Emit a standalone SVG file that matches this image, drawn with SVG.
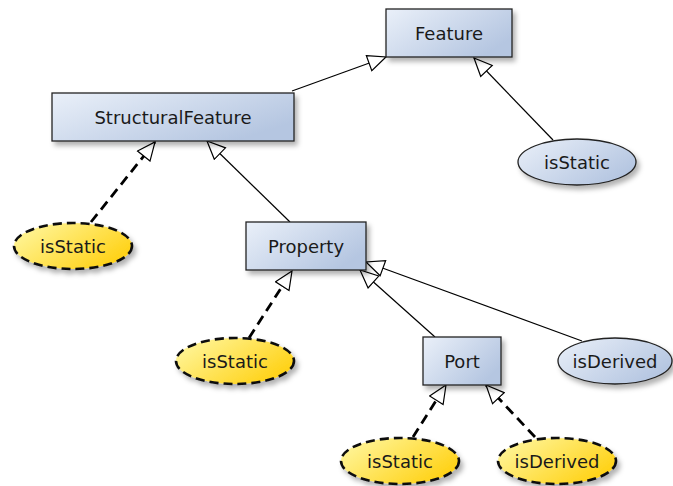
<svg xmlns="http://www.w3.org/2000/svg" width="673" height="486" viewBox="0 0 673 486">
  <defs>
    <linearGradient id="boxFill" x1="0" y1="0" x2="1" y2="0.6">
      <stop offset="0" stop-color="#eaf0f9"/>
      <stop offset="1" stop-color="#b5c6e1"/>
    </linearGradient>
    <linearGradient id="attrFill" x1="0" y1="0" x2="1" y2="0.6">
      <stop offset="0" stop-color="#fff9a8"/>
      <stop offset="1" stop-color="#ffd217"/>
    </linearGradient>
    <filter id="shadow" x="-20%" y="-20%" width="150%" height="160%">
      <feDropShadow dx="3" dy="4" stdDeviation="2.5" flood-color="#000" flood-opacity="0.3"/>
    </filter>
    <marker id="gen" markerUnits="userSpaceOnUse" viewBox="0 0 20 18" refX="19" refY="9" markerWidth="20" markerHeight="18" orient="auto">
      <path d="M1,1 L19,9 L1,17 Z" fill="#fff" stroke="#000" stroke-width="1.2" stroke-linejoin="miter"/>
    </marker>
  </defs>
  <style>
    .box { fill: url(#boxFill); stroke: #222; stroke-width: 1.3; filter: url(#shadow); }
    .attr { fill: url(#boxFill); stroke: #222; stroke-width: 1.3; filter: url(#shadow); }
    .hl { fill: url(#attrFill); stroke: #111; stroke-width: 2.6; stroke-dasharray: 9 5; filter: url(#shadow); }
    text { font-family: "DejaVu Sans", "Liberation Sans", sans-serif; font-size: 18px; fill: #1a1a1a; text-anchor: middle; dominant-baseline: central; }
    .solid { stroke: #000; stroke-width: 1.2; fill: none; marker-end: url(#gen); }
    .dashed { stroke: #000; stroke-width: 2.8; stroke-dasharray: 10 6; fill: none; marker-end: url(#gen); }
  </style>

  <g id="connectors">
    <line class="solid" x1="292" y1="91" x2="386" y2="57"/>
    <line class="solid" x1="553" y1="140" x2="474" y2="58"/>
    <line class="dashed" x1="91" y1="222" x2="155" y2="142"/>
    <line class="solid" x1="290" y1="222" x2="207" y2="141"/>
    <line class="dashed" x1="249" y1="338" x2="292" y2="271"/>
    <line class="solid" x1="435" y1="337" x2="360" y2="270"/>
    <line class="solid" x1="582" y1="341" x2="366" y2="262"/>
    <line class="dashed" x1="413" y1="437" x2="446" y2="385"/>
    <line class="dashed" x1="535" y1="437" x2="486" y2="385"/>
  </g>

  <g id="feature">
    <rect class="box" x="386" y="9" width="126" height="48"/>
    <text x="449" y="33">Feature</text>
  </g>
  <g id="structuralFeature">
    <rect class="box" x="52" y="93" width="242" height="48"/>
    <text x="173" y="117">StructuralFeature</text>
  </g>
  <g id="property">
    <rect class="box" x="246" y="222" width="120" height="48"/>
    <text x="306" y="246">Property</text>
  </g>
  <g id="port">
    <rect class="box" x="423" y="337" width="78" height="48"/>
    <text x="462" y="361">Port</text>
  </g>

  <g id="featureIsStatic">
    <ellipse class="attr" cx="577" cy="162" rx="59" ry="23"/>
    <text x="577" y="162">isStatic</text>
  </g>
  <g id="structuralFeatureIsStatic">
    <ellipse class="hl" cx="73" cy="246" rx="59" ry="23"/>
    <text x="73" y="246">isStatic</text>
  </g>
  <g id="propertyIsStatic">
    <ellipse class="hl" cx="235" cy="361" rx="59" ry="23"/>
    <text x="235" y="361">isStatic</text>
  </g>
  <g id="propertyIsDerived">
    <ellipse class="attr" cx="615" cy="361" rx="57" ry="23"/>
    <text x="615" y="361">isDerived</text>
  </g>
  <g id="portIsStatic">
    <ellipse class="hl" cx="400" cy="461" rx="59" ry="23"/>
    <text x="400" y="461">isStatic</text>
  </g>
  <g id="portIsDerived">
    <ellipse class="hl" cx="557" cy="461" rx="59" ry="23"/>
    <text x="557" y="461">isDerived</text>
  </g>
</svg>
